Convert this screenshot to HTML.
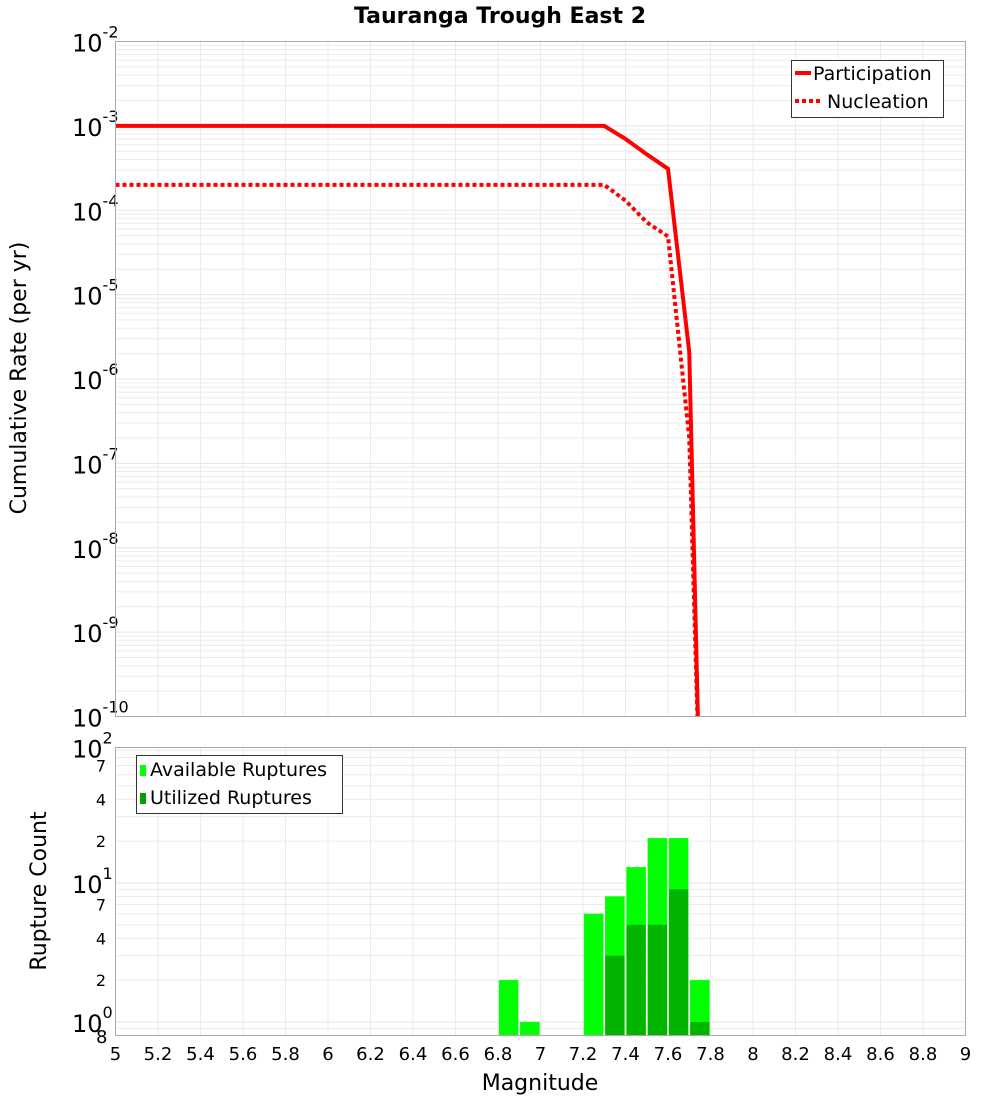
<!DOCTYPE html>
<html><head><meta charset="utf-8"><style>
body{margin:0;background:#fff;}
svg{display:block;font-family:"DejaVu Sans","Liberation Sans",sans-serif;}
</style></head><body>
<svg id="chart" width="1000" height="1100" viewBox="0 0 1000 1100" xmlns="http://www.w3.org/2000/svg">
<text x="500" y="23" text-anchor="middle" font-size="22" font-weight="bold">Tauranga Trough East 2</text>
<g id="topG"></g>
<g id="botG"></g>
<text transform="translate(26,378) rotate(-90)" text-anchor="middle" font-size="22">Cumulative Rate (per yr)</text>
<text transform="translate(46,891) rotate(-90)" text-anchor="middle" font-size="22">Rupture Count</text>
<text x="540" y="1090" text-anchor="middle" font-size="22">Magnitude</text>
</svg>
<script>
const partMags=[5.0,7.3,7.4,7.5,7.6,7.7,7.75];
const partRates=[1e-3,1e-3,7e-4,4.6e-4,3.1e-4,2.1e-6,1e-11];
const nuclMags=[5.0,7.3,7.4,7.5,7.6,7.7,7.75];
const nuclRates=[2e-4,2e-4,1.3e-4,7.2e-5,4.9e-5,2e-7,1e-11];
const binCenters=[6.85,6.95,7.25,7.35,7.45,7.55,7.65,7.75];
const availCounts=[2,1,6,8,13,21,21,2];
const utilCounts=[0,0,0,3,5,5,9,1];
const xTicks=[5,5.2,5.4,5.6,5.8,6,6.2,6.4,6.6,6.8,7,7.2,7.4,7.6,7.8,8,8.2,8.4,8.6,8.8,9];
const rateExps=[-2,-3,-4,-5,-6,-7,-8,-9,-10];
const countMinorLabels=[2,4,7];

const NS="http://www.w3.org/2000/svg";
function mk(parent,tag,attrs){const e=document.createElementNS(NS,tag);for(const k in attrs)e.setAttribute(k,attrs[k]);parent.appendChild(e);return e;}
const L=115.5,R=965.5;
const X=m=>L+(m-5)/4*(R-L);
const T1=41.5,B1=716.5;
const Y1=v=>T1+(-2-Math.log10(v))*(B1-T1)/8;
const T2=747.5,B2=1035.5,dec2=139,zero2=1022;
const Y2=v=>zero2-Math.log10(v)*dec2;
const topG=document.getElementById('topG'),botG=document.getElementById('botG');

for(let e=-10;e<-2;e++){for(let k=2;k<=9;k++){const y=Y1(k*Math.pow(10,e));const l=mk(topG,'line',{x1:L,x2:R,y1:y,y2:y,stroke:'#ebebeb','stroke-width':1});}}
rateExps.forEach(e=>{const y=Y1(Math.pow(10,e));const l=mk(topG,'line',{x1:L,x2:R,y1:y,y2:y,stroke:'#e4e4e4'});
 const tx=mk(topG,'text',{x:72,y:y+10,'font-size':24});
 tx.textContent='10';const s=mk(tx,'tspan',{dy:-14,'font-size':16});s.textContent=String(e);});
xTicks.forEach(m=>{const x=X(m);const l=mk(topG,'line',{x1:x,x2:x,y1:T1,y2:B1,stroke:'#ebebeb'});
 const l2=mk(botG,'line',{x1:x,x2:x,y1:T2,y2:B2,stroke:'#ebebeb'});
 const tx=mk(botG,'text',{x:x,y:1060,'text-anchor':'middle','font-size':18});tx.textContent=String(m);});

const cp=mk(topG,'clipPath',{id:'c1'});mk(cp,'rect',{x:L,y:T1,width:R-L,height:B1-T1});
const pp=partMags.map((m,i)=>X(m)+','+Y1(partRates[i])).join(' ');
const np=nuclMags.map((m,i)=>X(m)+','+Y1(nuclRates[i])).join(' ');
const nl=mk(topG,'polyline',{points:np,fill:'none',stroke:'#ff0000','stroke-width':4,'stroke-dasharray':'4 3','clip-path':'url(#c1)'});


const pl=mk(topG,'polyline',{points:pp,fill:'none',stroke:'#ff0000','stroke-width':4,'clip-path':'url(#c1)'});


const f1=mk(topG,'rect',{x:L,y:T1,width:R-L,height:B1-T1,fill:'none',stroke:'#aaa'});

const lg=mk(topG,'g',{});
mk(lg,'rect',{x:791.5,y:60.5,width:152,height:57,fill:'#fff',stroke:'#333'});
mk(lg,'line',{x1:795,x2:811,y1:73,y2:73,stroke:'#f00','stroke-width':4});
mk(lg,'line',{x1:795,x2:823,y1:101,y2:101,stroke:'#f00','stroke-width':4,'stroke-dasharray':'4 3'});
let tt1=mk(lg,'text',{x:813,y:80,'font-size':19});tt1.textContent='Participation';
tt1=mk(lg,'text',{x:827,y:108,'font-size':19});tt1.textContent='Nucleation';

for(let e=-1;e<2;e++){for(let k=1;k<=9;k++){const v=k*Math.pow(10,e);const y=Y2(v);if(y<T2||y>B2)continue;const l=mk(botG,'line',{x1:L,x2:R,y1:y,y2:y,stroke:k==1?'#e4e4e4':'#ebebeb'});}}
[0,1].forEach(e=>{countMinorLabels.forEach(k=>{const tx=mk(botG,'text',{x:106,y:Y2(k*Math.pow(10,e))+6,'text-anchor':'end','font-size':16});tx.textContent=String(k);});});
[0,1,2].forEach(e=>{const y=e==2?T2:Y2(Math.pow(10,e));const tx=mk(botG,'text',{x:72,y:y+10,'font-size':24});tx.textContent='10';const s=mk(tx,'tspan',{dy:-14,'font-size':16});s.textContent=String(e);});
const t8=mk(botG,'text',{x:96,y:1043,'font-size':18});t8.textContent='8';

const bw=(X(5.1)-X(5));
binCenters.forEach((c,i)=>{const x0=X(c-0.05)+1;const w=bw-2;
 const ya=Y2(availCounts[i]);const r=mk(botG,'rect',{x:x0,y:ya,width:w,height:B2-ya,fill:'#00ff00',stroke:'#33ff33','stroke-width':0.5});
 if(utilCounts[i]>0){const yu=Y2(utilCounts[i]);const u=mk(botG,'rect',{x:x0,y:yu,width:w,height:B2-yu,fill:'#00b400'});}});
const f2=mk(botG,'rect',{x:L,y:T2,width:R-L,height:B2-T2,fill:'none',stroke:'#aaa'});
const lb=mk(botG,'g',{});
mk(lb,'rect',{x:136.5,y:755.5,width:206,height:58,fill:'#fff',stroke:'#333'});
mk(lb,'rect',{x:140,y:765,width:6,height:11,fill:'#00ff00'});
mk(lb,'rect',{x:140,y:793,width:6,height:11,fill:'#00a000'});
let tt2=mk(lb,'text',{x:150,y:776,'font-size':19});tt2.textContent='Available Ruptures';
tt2=mk(lb,'text',{x:150,y:804,'font-size':19});tt2.textContent='Utilized Ruptures';
</script>
</body></html>
